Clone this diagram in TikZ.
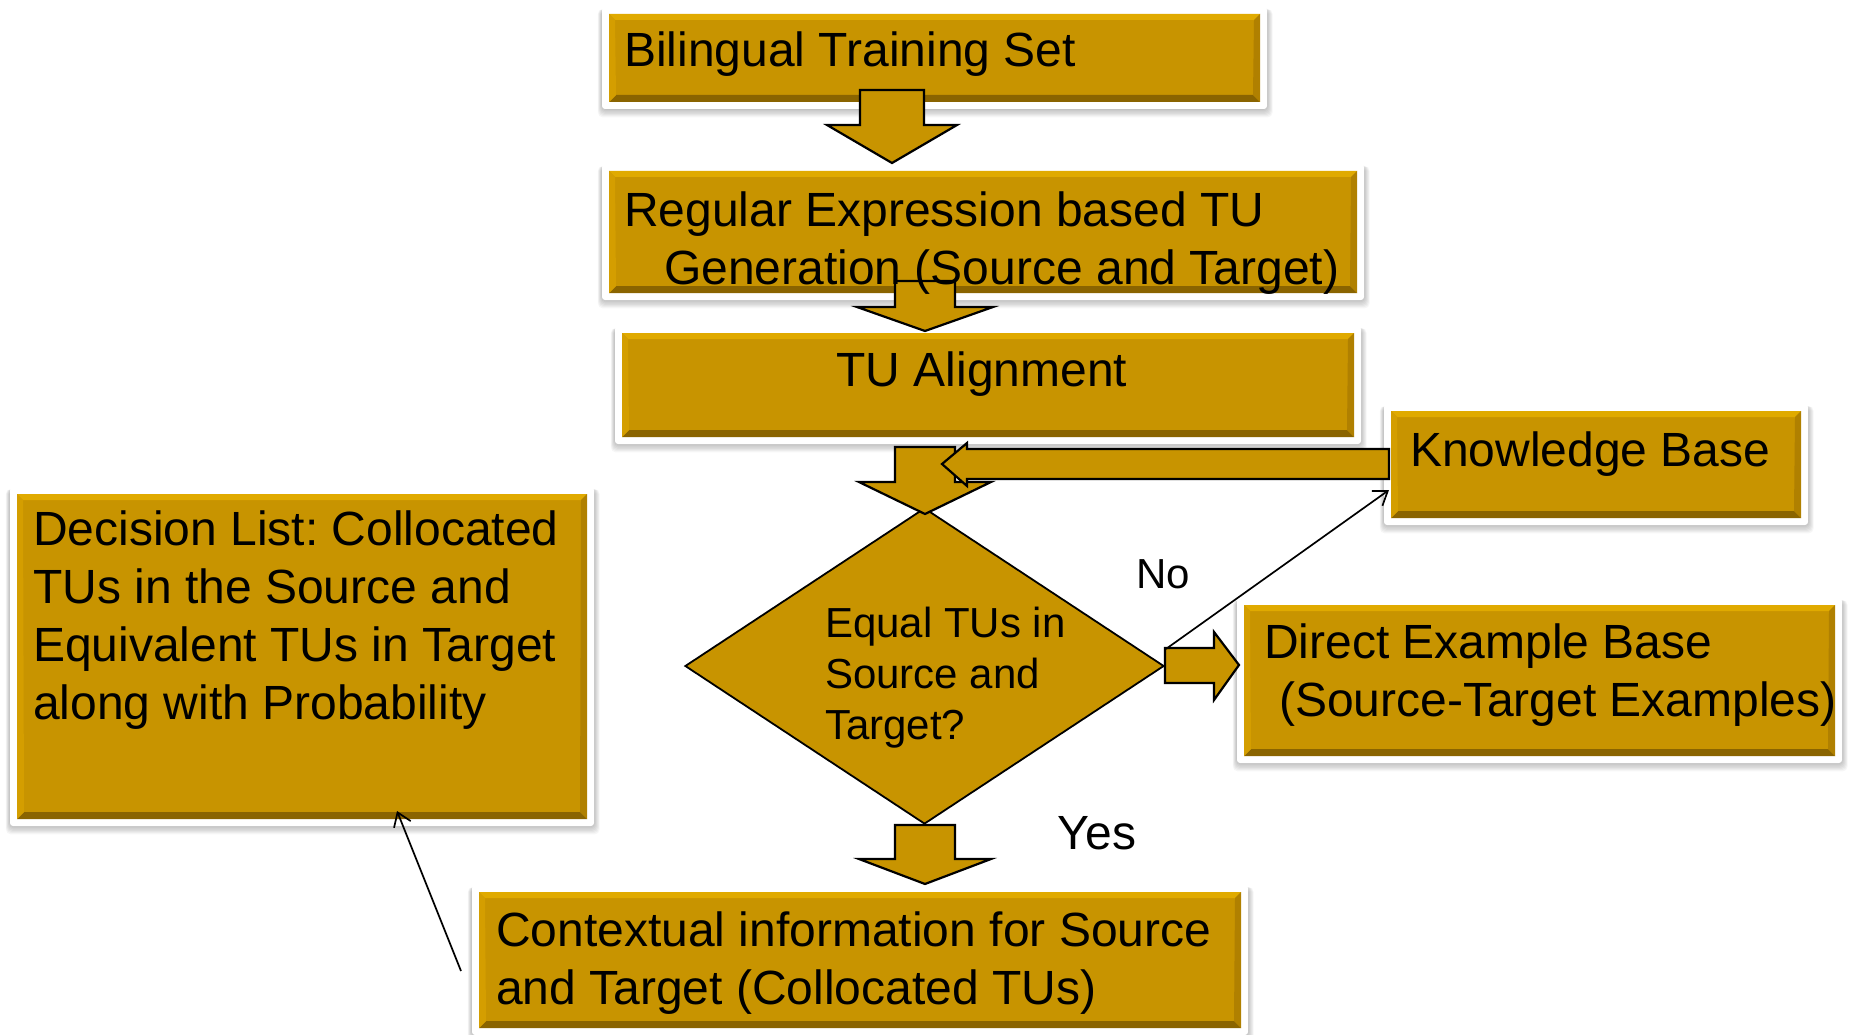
\documentclass[tikz,border=0pt]{standalone}
\usepackage{fontspec}
\setmainfont{Liberation Sans}
\frenchspacing
\usetikzlibrary{arrows.meta,shapes.geometric,calc}
\definecolor{gold}{RGB}{200,148,0}
\definecolor{goldtop}{RGB}{224,170,0}
\definecolor{goldbot}{RGB}{138,100,0}
\definecolor{goldleft}{RGB}{212,158,0}
\definecolor{goldright}{RGB}{176,128,0}
\tikzset{
  goldrect/.style={fill=gold, inner sep=0pt, outer sep=0pt},
  boxtext/.style={anchor=west, inner sep=0pt, align=left, font=\fontsize{48}{58}\selectfont\frenchspacing},
  diatext/.style={anchor=west, inner sep=0pt, align=left, font=\fontsize{42}{51}\selectfont},
  blk/.style={fill=gold, draw=black, line width=2.2pt, line join=miter},
  thinarrow/.style={draw=black, line width=1.7pt, -{Straight Barb[length=13pt,width=18pt,line width=1.7pt]}},
}
\newcommand\goldbox[5]{%
  \foreach \s in {1,...,7}{\fill[black, opacity=0.035, rounded corners=5pt] (#2-7-\s*0.6,#3-5) rectangle (#4+7+\s*0.8,#5+7+\s*1.2);}
  \fill[white, rounded corners=3pt] (#2-7,#3-7) rectangle (#4+7,#5+7);
  \node[goldrect, anchor=north west, minimum width={(#4-#2)*1pt}, minimum height={(#5-#3)*1pt}] (#1) at (#2,#3) {};
  \fill[goldtop] (#2,#3) -- (#4,#3) -- (#4-6,#3+6) -- (#2+6,#3+6) -- cycle;
  \fill[goldbot] (#2,#5) -- (#4,#5) -- (#4-7,#5-7) -- (#2+7,#5-7) -- cycle;
  \fill[goldleft] (#2,#3) -- (#2+6,#3+6) -- (#2+7,#5-7) -- (#2,#5) -- cycle;
  \fill[goldright] (#4,#3) -- (#4-6,#3+6) -- (#4-7,#5-7) -- (#4,#5) -- cycle;
}
\newcommand\downblk[7]{% name, cx, ytop, ybase, ytip, half shaft, half head
  \draw[blk] (#2-#6,#3) -- (#2+#6,#3) -- (#2+#6,#4) -- (#2+#7,#4) -- (#2,#5) coordinate (#1) -- (#2-#7,#4) -- (#2-#6,#4) -- cycle;}
\begin{document}
\begin{tikzpicture}[x=1pt,y=-1pt]
\fill[white] (0,0) rectangle (1853,1035);
\useasboundingbox (0,0) rectangle (1853,1035);

% boxes
\goldbox{b1}{609}{14}{1260}{102}
\goldbox{b2}{609}{171}{1357}{293}
\goldbox{b3}{622}{333}{1354}{437}
\goldbox{kb}{1391}{411}{1801}{518}
\goldbox{deb}{1244}{605}{1835}{756}
\goldbox{dec}{17}{494}{587}{819}
\goldbox{ctx}{479}{892}{1241}{1028}

% decision diamond
\node[diamond, draw=black, line width=1.8pt, fill=gold, inner sep=0pt, aspect=1.52,
      minimum width=479pt, minimum height=316pt] (dia) at (924.5,666) {};

% block arrows
\downblk{a1}{892}{90}{125}{163}{32}{65}
\downblk{a2}{925}{281}{307}{331}{30}{68}
\downblk{a3}{925}{447}{482}{514}{30}{66}
\downblk{a4}{925}{825}{859}{884}{30}{66}
\draw[blk] (1389,449) -- (967,449) -- (967,443) -- (942,464) -- (967,486) -- (967,479) -- (1389,479) -- cycle;
\draw[blk] (1165,648) -- (1214,648) -- (1214,632) -- (1239,665) -- (1214,700) -- (1214,683) -- (1165,683) -- cycle;

% thin arrows
\draw[thinarrow] ($(dia.east)+(1,-17)$) -- ($(kb.south west)+(-2,-28)$);
\draw[thinarrow] ($(ctx.west)+(-18,11)$) -- ($(dec.south)+(95,-8)$);

% texts
\node[boxtext] (t1) at (624,54) {Bilingual Training Set};
\node[boxtext] (t2) at (624,243) {Regular Expression based TU\\\hspace*{40pt}Generation (Source and Target)};
\node[boxtext, anchor=center] (t3) at (982,374) {TU Alignment};
\node[boxtext] (t4) at (1410,454) {Knowledge Base};
\node[boxtext] (t5) at (1264,675) {Direct Example Base\\\hspace*{15pt}(Source-Target Examples)};
\node[boxtext] (t6) at (33,620) {Decision List: Collocated\\TUs in the Source and\\Equivalent TUs in Target\\along with Probability};
\node[boxtext] (t7) at (496,963) {Contextual information for Source\\and Target (Collocated TUs)};
\node[diatext] (t8) at (825,678) {Equal TUs in\\Source and\\Target?};
\node[diatext, anchor=center] (no) at (1163,574) {No};
\node[boxtext, anchor=center] (yes) at (1097,833) {Yes};
\end{tikzpicture}
\end{document}
